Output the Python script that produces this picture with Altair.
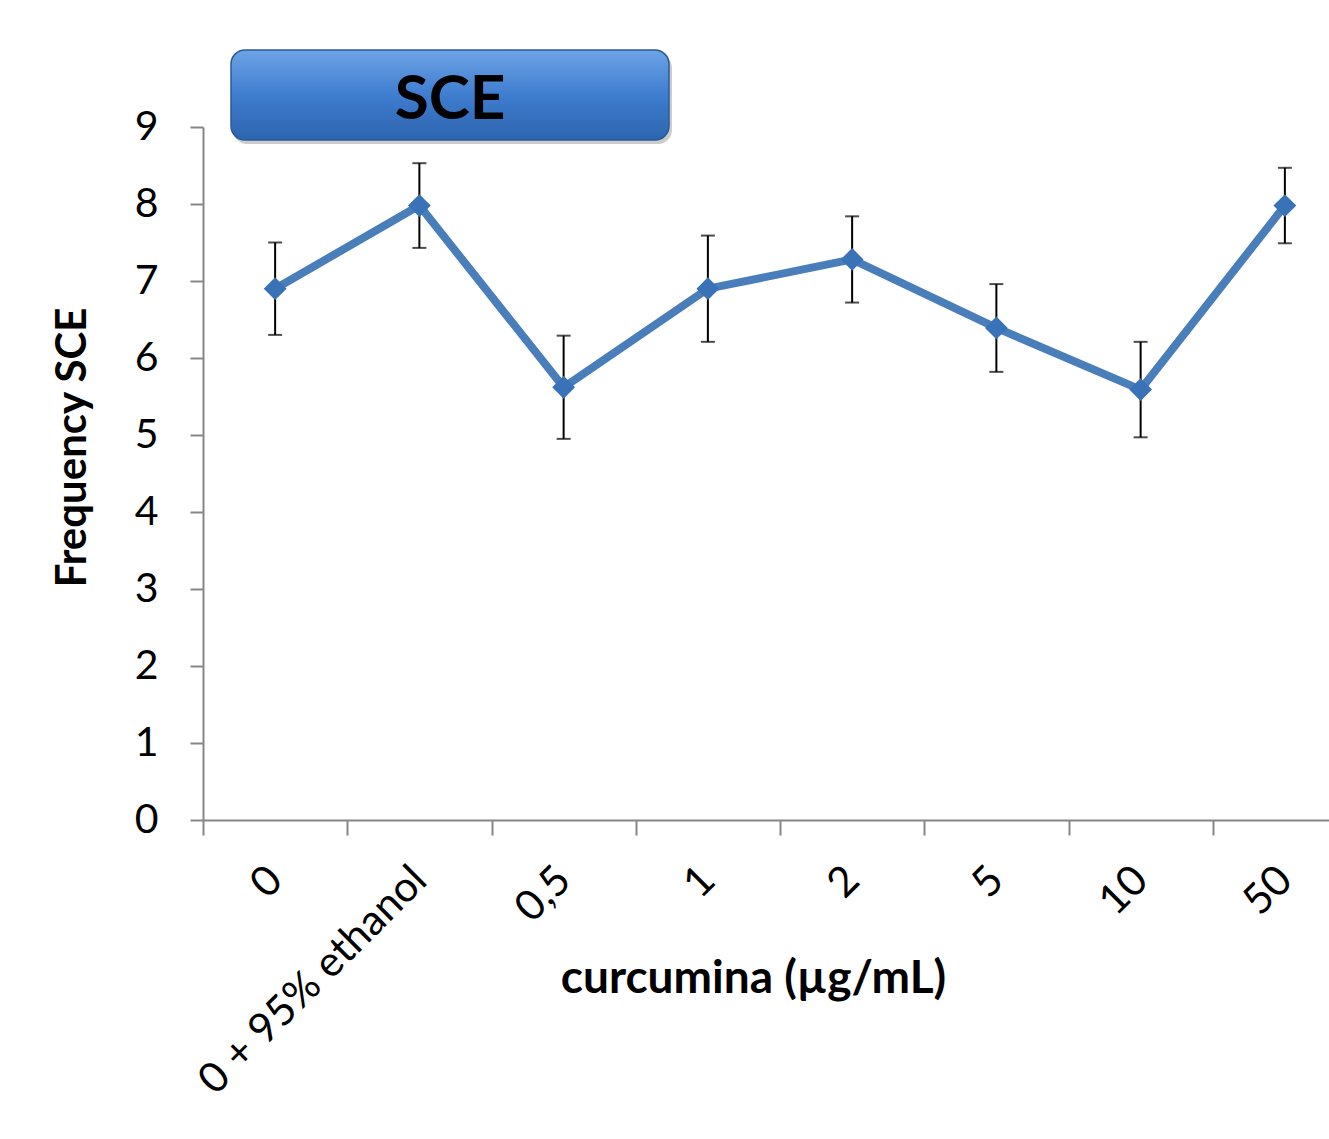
import altair as alt
import pandas as pd

categories = ["0", "0 + 95% ethanol", "0,5", "1", "2", "5", "10", "50"]
means = [6.9, 7.98, 5.62, 6.9, 7.28, 6.39, 5.59, 7.98]
errors = [0.6, 0.55, 0.67, 0.69, 0.56, 0.57, 0.62, 0.49]

df = pd.DataFrame({
    "cat": categories,
    "mean": means,
    "lo": [m - e for m, e in zip(means, errors)],
    "hi": [m + e for m, e in zip(means, errors)],
})

FONT = "Lato"

x_scale = alt.Scale(paddingInner=0, paddingOuter=0, range=[0, 1154])

x_enc = alt.X(
    "cat:N",
    sort=categories,
    scale=x_scale,
    axis=alt.Axis(
        title="curcumina (µg/mL)",
        labelAngle=-45,
        labelAlign="right",
        labelBaseline="middle",
        labelFontSize=42,
        labelFont=FONT,
        labelColor="#000000",
        labelPadding=38,
        labelLimit=0,
        tickBand="extent",
        tickSize=15,
        tickColor="#868686",
        tickWidth=2,
        domainColor="#868686",
        domainWidth=2,
        titleFont=FONT,
        titleFontSize=46,
        titleFontWeight="bold",
        titleColor="#000000",
        titleX=550,
        titleY=172,
        titleAlign="center",
        titleBaseline="alphabetic",
        labelOverlap=False,
    ),
)

y_scale = alt.Scale(domain=[0, 9], nice=False, zero=True)
y_axis = alt.Axis(
    title="Frequency SCE",
    values=list(range(0, 10)),
    format="d",
    labelFontSize=41,
    labelFont=FONT,
    labelColor="#000000",
    labelPadding=32,
    tickSize=13,
    tickColor="#868686",
    tickWidth=2,
    domainColor="#868686",
    domainWidth=2,
    grid=False,
    titleFont=FONT,
    titleFontSize=42,
    titleFontWeight="bold",
    titleColor="#000000",
    titleAngle=-90,
    titleX=-118,
    titleY=320,
    titleAlign="center",
    titleBaseline="alphabetic",
)

base = alt.Chart(df)

err_rule = base.mark_rule(color="#000000", strokeWidth=2).encode(
    x=x_enc,
    y=alt.Y("lo:Q", scale=y_scale, axis=y_axis),
    y2="hi:Q",
)
cap_lo = base.mark_tick(color="#000000", thickness=2, size=14, orient="horizontal").encode(
    x=alt.X("cat:N", sort=categories), y=alt.Y("lo:Q", scale=y_scale)
)
cap_hi = base.mark_tick(color="#000000", thickness=2, size=14, orient="horizontal").encode(
    x=alt.X("cat:N", sort=categories), y=alt.Y("hi:Q", scale=y_scale)
)
line = base.mark_line(color="#4A7EBB", strokeWidth=8).encode(
    x=alt.X("cat:N", sort=categories), y=alt.Y("mean:Q", scale=y_scale)
)
pts = base.mark_point(shape="diamond", filled=True, size=520, color="#3A72B8", opacity=1).encode(
    x=alt.X("cat:N", sort=categories), y=alt.Y("mean:Q", scale=y_scale)
)

title_df = pd.DataFrame({"t": ["SCE"]})
tbase = alt.Chart(title_df)
shadow = tbase.mark_rect(cornerRadius=14, fill="#7f7f7f", opacity=0.4).encode(
    x=alt.value(30), x2=alt.value(469), y=alt.value(-73), y2=alt.value(17)
)
box = tbase.mark_rect(
    cornerRadius=14,
    stroke="#2b5a96",
    strokeWidth=1.5,
    fill=alt.Gradient(
        gradient="linear",
        stops=[
            alt.GradientStop(color="#6da3e6", offset=0),
            alt.GradientStop(color="#3f7dcf", offset=0.5),
            alt.GradientStop(color="#2d64ae", offset=1),
        ],
        x1=0, x2=0, y1=0, y2=1,
    ),
).encode(x=alt.value(28), x2=alt.value(466), y=alt.value(-77), y2=alt.value(13))
title_text = tbase.mark_text(
    font=FONT, fontSize=62, fontWeight="bold", color="#000000", align="center", baseline="middle"
).encode(text="t:N", x=alt.value(247), y=alt.value(-27))

chart = alt.layer(err_rule, cap_lo, cap_hi, line, pts, shadow, box, title_text).properties(
    width=1125,
    height=693,
    autosize=alt.AutoSizeParams(type="none"),
    padding={"left": 203, "top": 127, "right": 1, "bottom": 319},
    background="#ffffff",
).configure_view(stroke=None)

chart.save("out.html", embed_options={"renderer": "svg", "actions": False})
